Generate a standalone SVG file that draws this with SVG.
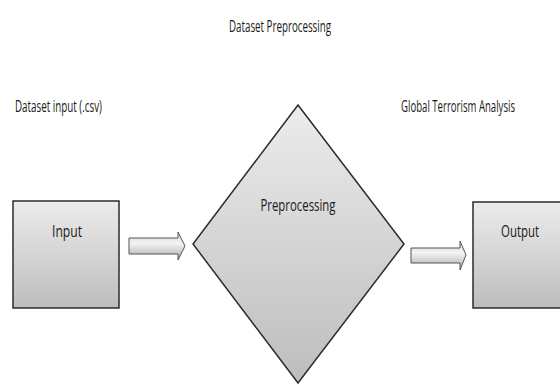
<svg xmlns="http://www.w3.org/2000/svg" width="560" height="385" viewBox="0 0 560 385">
<defs>
<linearGradient id="g" x1="0" y1="0" x2="0" y2="1">
<stop offset="0" stop-color="#ececec"/>
<stop offset="1" stop-color="#bdbdbd"/>
</linearGradient>
<linearGradient id="ga" x1="0" y1="0" x2="0" y2="1">
<stop offset="0" stop-color="#cfcfcf"/>
<stop offset="0.4" stop-color="#f4f4f4"/>
<stop offset="1" stop-color="#a8a8a8"/>
</linearGradient>
</defs>
<style>
.t{font-family:"Open Sans","Liberation Sans",sans-serif;font-size:16px;fill:#1a1a1a}
.b{fill:url(#g);stroke:#2b2b2b;stroke-width:1.5}
.a{fill:url(#ga);stroke:#555;stroke-width:1}
</style>
<rect width="560" height="385" fill="#fff"/>
<text class="t" x="280" y="32" text-anchor="middle" textLength="102" lengthAdjust="spacingAndGlyphs">Dataset Preprocessing</text>
<text class="t" x="15" y="112" textLength="87" lengthAdjust="spacingAndGlyphs">Dataset input (.csv)</text>
<text class="t" transform="translate(458,112) scale(0.6,1)" x="0" y="0" text-anchor="middle">Global Terrorism Analysis</text>
<g id="input">
<rect class="b" x="13" y="201" width="106" height="107"/>
<text class="t" x="67" y="237" text-anchor="middle" font-size="17" textLength="30" lengthAdjust="spacingAndGlyphs">Input</text>
</g>
<g id="preprocessing">
<polygon class="b" points="298,105 404,244 298,383 193,244" stroke-width="1.2"/>
<text class="t" x="298" y="211" text-anchor="middle" font-size="17" textLength="75" lengthAdjust="spacingAndGlyphs">Preprocessing</text>
</g>
<g id="output">
<rect class="b" x="473" y="202" width="100" height="106"/>
<text class="t" x="520" y="237" text-anchor="middle" font-size="17" textLength="38" lengthAdjust="spacingAndGlyphs">Output</text>
</g>
<g id="connectors">
<polygon class="a" points="129,238 178,238 178,232 185,246 178,260 178,254 129,254"/>
<polygon class="a" points="411,248 460,248 460,241 466,255 460,270 460,263 411,263"/>
</g>
</svg>
